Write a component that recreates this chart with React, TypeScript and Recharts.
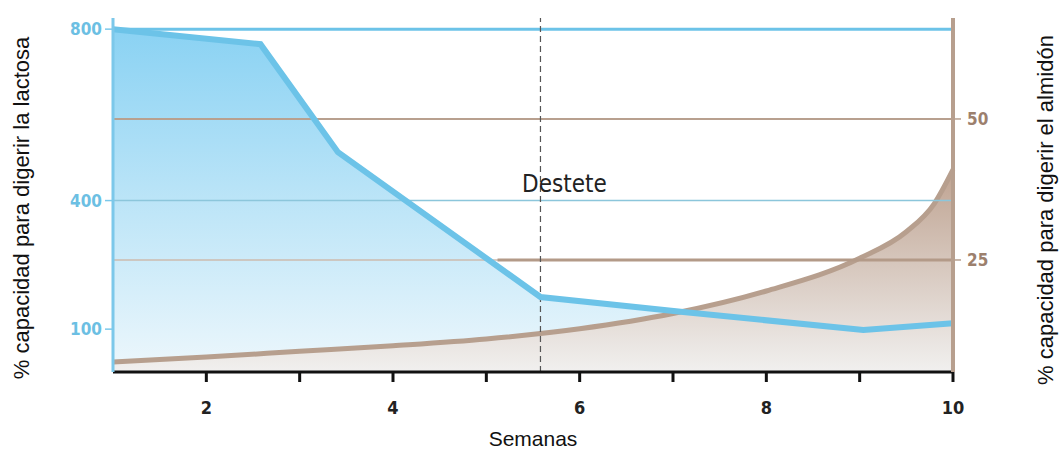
import {
  Area,
  ComposedChart,
  Line,
  ReferenceLine,
  XAxis,
  YAxis,
} from 'recharts';

// Lactose digestion capacity (left axis)
const lactosaSemanas = [1, 2.58, 3.41, 5.58, 7.11, 9.04, 10];
const lactosaValores = [800, 765, 513, 175, 140, 98, 114];

// Starch digestion capacity (right axis)
const almidonSemanas = [1, 2, 3, 4, 5, 6, 7, 8, 9, 9.5, 9.8, 10];
const almidonValores = [6.9, 7.8, 8.8, 9.8, 11, 12.8, 15.5, 19.5, 25.3, 30, 35, 41];

const semanaTicks = [2, 3, 4, 5, 6, 7, 8, 9, 10];
const lactosaTicks = [100, 400, 800];
const almidonTicks = [25, 50];
const destete = 5.58;

const lactosaData = lactosaSemanas.map((semana, i) => ({ semana, lactosa: lactosaValores[i] }));
const almidonData = almidonSemanas.map((semana, i) => ({ semana, almidon: almidonValores[i] }));

const BLUE = '#6cc3e8';
const BROWN = '#b79f8e';
const LABEL_FONT = '"Liberation Sans", Arial, sans-serif';
const TICK_FONT = '"Liberation Sans Narrow", "DejaVu Sans Condensed", "Liberation Sans", sans-serif';

export default function App() {
  return (
    <div style={{ position: 'absolute', left: 0, top: 0, width: 1064, height: 450, background: '#fff' }}>
      <ComposedChart width={1064} height={450} margin={{ top: 18, right: 61, bottom: 18, left: 40 }}>
        <defs>
          <linearGradient id="gradLactosa" x1="0" y1="0" x2="0" y2="1">
            <stop offset="0%" stopColor="#8ad2f3" />
            <stop offset="100%" stopColor="#edf7fc" />
          </linearGradient>
          <linearGradient id="gradAlmidon" x1="0" y1="0" x2="0" y2="1">
            <stop offset="0%" stopColor="#bfa391" />
            <stop offset="100%" stopColor="#f1f0ef" />
          </linearGradient>
        </defs>

        <XAxis
          type="number"
          dataKey="semana"
          domain={[1, 10]}
          ticks={semanaTicks}
          allowDuplicatedCategory={false}
          height={60}
          axisLine={{ stroke: '#111', strokeWidth: 3 }}
          tickLine={{ stroke: '#111', strokeWidth: 3 }}
          tickSize={10}
          tickMargin={19}
          tickFormatter={(v: number) => (v % 2 === 0 ? String(v) : '')}
          tick={{ fill: '#222', fontSize: 18, fontWeight: 700, fontFamily: TICK_FONT }}
          label={{
            content: () => (
              <text x={533} y={446} textAnchor="middle" fontSize={21} fill="#111" fontFamily={LABEL_FONT}>
                Semanas
              </text>
            ),
          }}
        />
        <YAxis
          yAxisId="left"
          type="number"
          domain={[0, 826]}
          ticks={lactosaTicks}
          width={73}
          allowDataOverflow
          axisLine={{ stroke: '#7cc8ea', strokeWidth: 3 }}
          tickLine={{ stroke: '#7cc8ea', strokeWidth: 1.5 }}
          tickSize={8}
          tickMargin={3}
          tick={{ fill: '#6cbfe3', fontSize: 17, fontWeight: 700, fontFamily: TICK_FONT }}
          label={{
            content: () => (
              <text
                x={29}
                y={208}
                transform="rotate(-90 29 208)"
                textAnchor="middle"
                fontSize={22}
                fill="#111"
                fontFamily={LABEL_FONT}
              >
                % capacidad para digerir la lactosa
              </text>
            ),
          }}
        />
        <YAxis
          yAxisId="right"
          orientation="right"
          type="number"
          domain={[5.14, 67.9]}
          ticks={almidonTicks}
          width={50}
          allowDataOverflow
          axisLine={{ stroke: BROWN, strokeWidth: 4 }}
          tickLine={{ stroke: BROWN, strokeWidth: 1.5 }}
          tickSize={8}
          tickMargin={6}
          tick={{ fill: '#9c806d', fontSize: 17, fontWeight: 700, fontFamily: TICK_FONT }}
          label={{
            content: () => (
              <text
                x={1053}
                y={210}
                transform="rotate(-90 1053 210)"
                textAnchor="middle"
                fontSize={22}
                fill="#111"
                fontFamily={LABEL_FONT}
              >
                % capacidad para digerir el almidón
              </text>
            ),
          }}
        />

        <Area
          yAxisId="left"
          data={lactosaData}
          dataKey="lactosa"
          type="linear"
          stroke="none"
          fill="url(#gradLactosa)"
          fillOpacity={1}
          isAnimationActive={false}
        />

        <ReferenceLine yAxisId="left" y={400} stroke="#8cc6db" strokeWidth={1.5} />
        <ReferenceLine yAxisId="right" y={50} stroke="#b8a08f" strokeWidth={2} />
        <ReferenceLine yAxisId="right" y={25} stroke="#cdbbae" strokeWidth={1.5} />
        <ReferenceLine
          yAxisId="right"
          segment={[{ x: 5.12, y: 25 }, { x: 10, y: 25 }]}
          stroke="#b39a88"
          strokeWidth={3}
        />

        <Area
          yAxisId="right"
          data={almidonData}
          dataKey="almidon"
          type="monotone"
          stroke={BROWN}
          strokeWidth={5}
          fill="url(#gradAlmidon)"
          fillOpacity={1}
          isAnimationActive={false}
        />

        <ReferenceLine yAxisId="left" y={800} stroke={BLUE} strokeWidth={3} />
        <ReferenceLine
          yAxisId="left"
          x={destete}
          stroke="#555"
          strokeWidth={1.2}
          strokeDasharray="6 4"
          label={{
            content: () => (
              <text x={522} y={192} fontSize={24} fill="#222" fontFamily={TICK_FONT}>
                Destete
              </text>
            ),
          }}
        />

        <Line
          yAxisId="left"
          data={lactosaData}
          dataKey="lactosa"
          type="linear"
          stroke={BLUE}
          strokeWidth={6}
          dot={false}
          activeDot={false}
          isAnimationActive={false}
        />
      </ComposedChart>
    </div>
  );
}
